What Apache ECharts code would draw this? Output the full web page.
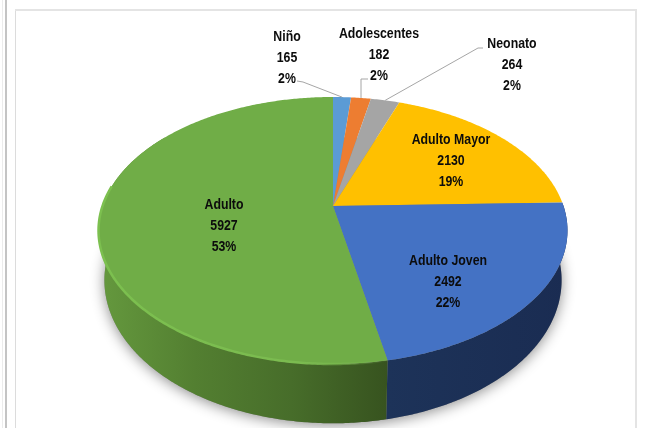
<!DOCTYPE html>
<html>
<head>
<meta charset="utf-8">
<style>html,body{margin:0;padding:0;background:#fff}#main{width:646px;height:428px}</style>
<script src="https://cdn.jsdelivr.net/npm/echarts@6/dist/echarts.min.js"></script>
</head>
<body>
<div id="main"></div>
<script>
var categories = ['Niño', 'Adolescentes', 'Neonato', 'Adulto Mayor', 'Adulto Joven', 'Adulto'];
var values = [165, 182, 264, 2130, 2492, 5927];
var percents = ['2%', '2%', '2%', '19%', '22%', '53%'];

var colors = ['#5b9bd5', '#ed7d31', '#a5a5a5', '#ffc000', '#4472c4', '#70ad47'];
// wall shading left to right, for the slices whose side can be seen
var wallStops = {
    4: ['#1d3359', '#1a2c52'],
    5: ['#65993e', '#537f31', '#476d2a', '#37531f']
};
// label centres, and the elbow of the outside labels' leader lines
var labelPos = [[287, 58], [379, 55], [512, 65], [451, 161], [448, 282], [224, 226]];
var leaders = [
    [[297, 81], [303, 82]],
    [[368, 79], [361, 79]],
    [[483, 48], [478, 48]],
    null, null, null
];

// the disc as a perspective view of a circle
var cx = 333, cy = 206, A = 230.5, B = 129, k = 0.1835;
var depth = 48, lowerA = 224.7, lowerB = 138.2;

var total = values.reduce(function (a, b) { return a + b; }, 0);
var startAngles = [];
values.reduce(function (sum, v, i) {
    startAngles[i] = sum / total * Math.PI * 2;
    return sum + v;
}, 0);

function project(theta, lower) {
    var u = Math.sin(theta), v = Math.cos(theta);
    var s = 1 / (1 + k * v);
    return [
        cx + (lower ? lowerA : A) * u * s,
        cy + (lower ? depth : 0) - (lower ? lowerB : B) * v * s
    ];
}

function arcPoints(from, to, lower) {
    var pts = [], n = Math.max(2, Math.ceil((to - from) / 0.01));
    for (var i = 0; i <= n; i++) {
        pts.push(project(from + (to - from) * i / n, lower));
    }
    return pts;
}

function sliceRange(i, value) {
    var from = startAngles[i];
    return [from, from + value / total * Math.PI * 2];
}

function renderWall(params, api) {
    var i = params.dataIndex;
    var stops = wallStops[i];
    if (!stops) return;
    var r = sliceRange(i, api.value(0));
    // only the front of the rim shows
    var from = Math.max(r[0], Math.PI * 0.45), to = Math.min(r[1], Math.PI * 1.7);
    var pts = arcPoints(from, to, false).concat(arcPoints(from, to, true).reverse());
    return {
        type: 'polygon',
        shape: { points: pts },
        style: {
            fill: new echarts.graphic.LinearGradient(0, 0, 1, 0, stops.map(function (c, j) {
                return { offset: j / (stops.length - 1), color: c };
            }))
        }
    };
}

function renderShadow(params, api) {
    if (params.dataIndex !== 0) return;
    return {
        type: 'polygon',
        shape: { points: arcPoints(0, Math.PI * 2, true) },
        style: {
            fill: '#888',
            shadowBlur: 14,
            shadowColor: 'rgba(0,0,0,0.45)',
            shadowOffsetY: 2
        }
    };
}

function renderTop(params, api) {
    var i = params.dataIndex;
    var r = sliceRange(i, api.value(0));
    var pts = [[cx, cy]].concat(arcPoints(r[0], r[1], false));
    return {
        type: 'polygon',
        shape: { points: pts },
        style: { fill: colors[i] }
    };
}

function renderRim(params, api) {
    var i = params.dataIndex;
    if (i !== 5) return;
    var r = sliceRange(i, api.value(0));
    return {
        type: 'polyline',
        shape: { points: arcPoints(r[0], Math.PI * 1.55, false) },
        style: {
            fill: 'none',
            lineWidth: 2.5,
            stroke: new echarts.graphic.LinearGradient(1, 0, 0, 0, [
                { offset: 0, color: 'rgba(124,190,80,0)' },
                { offset: 0.3, color: '#7bbb50' },
                { offset: 1, color: '#7cc04f' }
            ])
        }
    };
}

function renderLabel(params, api) {
    var i = params.dataIndex;
    var children = [];
    if (leaders[i]) {
        var r = sliceRange(i, api.value(0));
        children.push({
            type: 'polyline',
            shape: { points: leaders[i].concat([project((r[0] + r[1]) / 2, false)]) },
            style: { fill: 'none', stroke: '#a6a6a6', lineWidth: 1 }
        });
    }
    children.push({
        type: 'text',
        x: labelPos[i][0],
        y: labelPos[i][1],
        scaleX: 0.88,
        style: {
            text: categories[i] + '\n' + api.value(0) + '\n' + percents[i],
            align: 'center',
            verticalAlign: 'middle',
            lineHeight: 21,
            fill: '#0c0c0c',
            font: 'bold 14px "Liberation Sans", sans-serif'
        }
    });
    return { type: 'group', children: children };
}

function discSeries(renderItem, z) {
    return {
        type: 'custom',
        coordinateSystem: 'none',
        renderItem: renderItem,
        data: values,
        z: z,
        silent: true
    };
}

var myChart = echarts.init(document.getElementById('main'));
var option = {
    animation: false,
    backgroundColor: '#fff',
    graphic: [
        { type: 'rect', z: 0, shape: { x: 2, y: 0, width: 1, height: 428 }, style: { fill: '#ececec' } },
        { type: 'rect', z: 0, shape: { x: 5, y: 0, width: 2, height: 428 }, style: { fill: '#c4c4c4' } },
        { type: 'rect', z: 0, shape: { x: 15, y: 10, width: 1, height: 418 }, style: { fill: '#dcdcdc' } },
        { type: 'rect', z: 0, shape: { x: 15, y: 9, width: 622, height: 2 }, style: { fill: '#e4e4e4' } },
        { type: 'rect', z: 0, shape: { x: 635, y: 10, width: 2, height: 418 }, style: { fill: '#e4e4e4' } }
    ],
    series: [
        discSeries(renderShadow, 1),
        discSeries(renderWall, 2),
        discSeries(renderTop, 3),
        discSeries(renderRim, 4),
        discSeries(renderLabel, 5)
    ]
};
myChart.setOption(option);
</script>
</body>
</html>
